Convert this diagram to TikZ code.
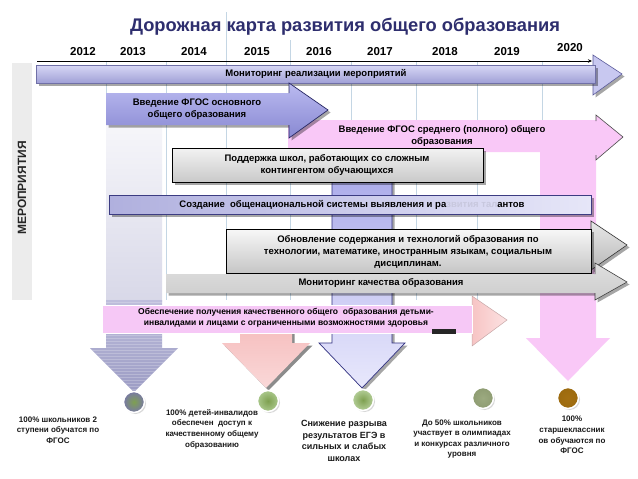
\documentclass[tikz,border=0pt]{standalone}
\usepackage{fontspec}
\setmainfont{Liberation Sans}
\usetikzlibrary{shadows,arrows.meta}
\definecolor{titleblue}{RGB}{46,46,110}
\definecolor{gridc}{RGB}{196,214,228}
\definecolor{labelbg}{RGB}{236,236,236}
\definecolor{pinkc}{RGB}{249,200,247}
\definecolor{navy}{RGB}{50,50,130}
\definecolor{colAtop}{RGB}{246,246,250}
\definecolor{colAmid}{RGB}{216,216,232}
\definecolor{colBtop}{RGB}{190,190,220}
\definecolor{colBbot}{RGB}{156,156,196}
\definecolor{coralTop}{RGB}{244,182,182}
\definecolor{coralBot}{RGB}{250,216,216}
\definecolor{blueTop}{RGB}{172,172,234}
\definecolor{blueBot}{RGB}{232,232,252}
\definecolor{lavTop}{RGB}{216,216,246}
\definecolor{lavBot}{RGB}{160,160,214}
\definecolor{lavHead}{RGB}{200,200,240}
\definecolor{vvTop}{RGB}{186,186,240}
\definecolor{vvBot}{RGB}{136,136,210}
\definecolor{vvEdge}{RGB}{40,40,100}
\definecolor{szL}{RGB}{176,176,222}
\definecolor{szR}{RGB}{230,230,248}
\definecolor{szEdge}{RGB}{60,60,130}
\definecolor{fadec}{RGB}{200,200,222}
\definecolor{obPink}{RGB}{246,200,246}
\definecolor{obHeadL}{RGB}{247,196,196}
\definecolor{obHeadR}{RGB}{252,226,226}
\definecolor{obEdge}{RGB}{200,168,168}
\definecolor{dotSlate}{RGB}{120,120,166}
\definecolor{dotGreen}{RGB}{126,160,80}
\definecolor{dotLgreen}{RGB}{170,200,140}
\definecolor{dotLgreenB}{RGB}{180,206,152}
\definecolor{dotOlive}{RGB}{142,156,114}
\definecolor{dotOliveC}{RGB}{156,170,128}
\definecolor{dotBrown}{RGB}{156,106,14}
\definecolor{dotBrownC}{RGB}{164,112,18}
\begin{document}
\begin{tikzpicture}[x=1pt,y=-1pt,
  boxtext/.style={font=\bfseries\fontsize{9.5}{12}\selectfont, align=center, inner sep=0pt, text=black},
  obtext/.style={font=\bfseries\fontsize{8.5}{11}\selectfont, align=center, inner sep=0pt, text=black},
  smalltext/.style={font=\bfseries\fontsize{8}{10.6}\selectfont, align=center, inner sep=0pt, text=black!90},
  yearlbl/.style={font=\bfseries\fontsize{11.5}{12}\selectfont, inner sep=0pt},
  myshadow/.style={drop shadow={shadow xshift=2.5pt, shadow yshift=-2.5pt, fill=black, opacity=0.35}},
  gridline/.style={draw=gridc, line width=0.6pt},
  dot/.style 2 args={circle, inner sep=0pt, minimum size=21pt, inner color=#1, outer color=#2, draw=white, line width=1.5pt, drop shadow={shadow xshift=1.5pt, shadow yshift=-1.5pt, opacity=0.3}},
]
\useasboundingbox (0,0) rectangle (638,479);
\fill[white] (0,0) rectangle (638,479);

% grid lines
\foreach \gx/\gy in {106/62,166/62,226/12,290/40,351/62,416/62,477/62,542/62}
  \draw[gridline] (\gx,\gy) -- (\gx,300);

% title
\node[font=\bfseries\fontsize{18.3}{20}\selectfont, text=titleblue, inner sep=0pt] (title) at (345,27) {Дорожная карта развития общего образования};

% years
\foreach \yr/\xx in {2012/83,2013/133,2014/194,2015/257,2016/319,2017/380,2018/445,2019/507}
  \node[yearlbl] (y\yr) at (\xx,52) {\yr};
\node[yearlbl] (y2020) at (570,48) {2020};

% timeline
\coordinate (tlA) at (37,61);
\coordinate (tlB) at (592,61);
\draw[line width=0.7pt, -{Stealth[length=4pt,width=3.5pt]}] (tlA) -- (tlB);

% left label column
\fill[labelbg] (12,63) rectangle (32,300);
\node[rotate=90, font=\bfseries\fontsize{12}{12}\selectfont, text=black!85] (merop) at (22,188) {МЕРОПРИЯТИЯ};

% grey column arrow (2013)
\shade[top color=colAtop, bottom color=colAmid] (106,125) rectangle (162,301);
\shade[top color=colBtop, bottom color=colBbot] (106,300) -- (162,300) -- (162,348) -- (178,348) -- (134,392) -- (90,348) -- (106,348) -- cycle;
\begin{scope}
  \clip (106,300) -- (162,300) -- (162,348) -- (178,348) -- (134,392) -- (90,348) -- (106,348) -- cycle;
  \foreach \yy in {302,305,...,392} \draw[white, opacity=0.22, line width=0.7pt] (88,\yy) -- (180,\yy);
\end{scope}

% pink shape (FGOS secondary)
\fill[pinkc] (288,120) -- (596,120) -- (596,115) -- (623,137) -- (596,160) -- (596,338) -- (610,338) -- (568,381) -- (526,338) -- (540,338) -- (540,152) -- (288,152) -- cycle;
\draw[black!70, line width=0.6pt, line join=miter] (596,121) -- (596,115) -- (623,137) -- (596,160) -- (596,155);

% coral down arrow
\path[drop shadow={shadow xshift=2.5pt, shadow yshift=-2.5pt, fill=black, opacity=0.45}, top color=coralTop, bottom color=coralBot] (240,306) -- (292,306) -- (292,343) -- (310,343) -- (266,388) -- (222,343) -- (240,343) -- cycle;

% blue down arrow
\path[myshadow, top color=blueTop, bottom color=blueBot, draw=navy, line width=0.7pt, line join=miter] (332,175) -- (392,175) -- (392,343) -- (405,343) -- (362,388) -- (319,343) -- (332,343) -- cycle;

% monitoring of realization
\path[myshadow, fill=lavHead, draw=navy!80, line width=0.6pt, line join=miter] (593,55) -- (622,74) -- (593,95) -- cycle;
\path[myshadow, top color=lavTop, bottom color=lavBot, draw=navy!70, line width=0.5pt] (36,65) rectangle (595,83);
\node[boxtext] (mon1) at (316,74) {Мониторинг реализации мероприятий};

% FGOS basic
\path[myshadow, top color=vvTop, bottom color=vvBot] (106,93) -- (289,93) -- (289,83) -- (328,110) -- (289,138) -- (289,125) -- (106,125) -- cycle;
\draw[vvEdge, line width=0.7pt, line join=miter] (289,93) -- (289,83) -- (328,110) -- (289,138) -- (289,125);
\node[boxtext] (vv1) at (197,109) {Введение ФГОС основного\\общего образования};

% FGOS secondary text
\node[boxtext] (vv2) at (442,136) {Введение ФГОС среднего (полного) общего\\образования};

% support of schools
\path[myshadow, top color=gray!10, bottom color=gray!42, draw=black, line width=0.7pt] (172,148) rectangle (483,182);
\node[boxtext] (sup1) at (327,165) {Поддержка школ, работающих со сложным\\контингентом обучающихся};

% national system
\path[myshadow, left color=szL, right color=szR, draw=szEdge, line width=0.6pt] (109,195) rectangle (591,214);
\node[boxtext] (nat1) at (352,205) {Создание\ \ общенациональной системы выявления и ра\textcolor{fadec}{звития тал}антов};

% update of content
\path[myshadow, top color=gray!18, bottom color=gray!55, draw=black!80, line width=0.6pt, line join=miter] (591,221) -- (627,245) -- (591,270) -- cycle;
\path[myshadow, top color=gray!6, bottom color=gray!45, draw=black, line width=0.7pt] (226,229) rectangle (591,273);
\node[boxtext] (upd1) at (408,252) {Обновление содержания и технологий образования по\\технологии, математике, иностранным языкам, социальным\\дисциплинам.};

% monitoring of quality
\path[myshadow, top color=gray!25, bottom color=gray!40] (166,274) -- (595,274) -- (595,263) -- (627,282) -- (595,300) -- (595,293) -- (166,293) -- cycle;
\draw[black!75, line width=0.6pt, line join=miter] (595,274) -- (595,263) -- (627,282) -- (595,300) -- (595,293);
\node[boxtext] (mon2) at (381,283) {Мониторинг качества образования};

% inclusive education
\path[left color=obHeadL, right color=obHeadR, draw=obEdge, line width=0.5pt, line join=miter] (472,296) -- (507,320) -- (472,346) -- cycle;
\path[fill=obPink, draw=white, line width=0.8pt] (102,305) rectangle (472,333);
\fill[black!85] (432,329) rectangle (456,333.5);
\node[obtext] (inc1) at (286,318) {Обеспечение получения качественного общего\ \ образования детьми-\\инвалидами и лицами с ограниченными возможностями здоровья};

% result circles
\node[dot={dotGreen}{dotSlate}] (c1) at (134,402) {};
\node[dot={dotGreen}{dotLgreen}] (c2) at (268,401) {};
\node[dot={dotGreen}{dotLgreenB}] (c3) at (363,400) {};
\node[dot={dotOliveC}{dotOlive}] (c4) at (483,398) {};
\node[dot={dotBrownC}{dotBrown}] (c5) at (568,398) {};

% result texts
\node[smalltext] (r1) at (58,430) {100\% школьников 2\\ступени обучатся по\\ФГОС};
\node[smalltext] (r2) at (212,429) {100\% детей-инвалидов\\обеспечен\ \ доступ к\\качественному общему\\образованию};
\node[font=\bfseries\fontsize{9}{11.7}\selectfont, align=center, inner sep=0pt, text=black!90] (r3) at (344,441) {Снижение разрыва\\результатов ЕГЭ в\\сильных и слабых\\школах};
\node[smalltext] (r4) at (462,439) {До 50\% школьников\\участвует в олимпиадах\\и конкурсах различного\\уровня};
\node[smalltext] (r5) at (572,435) {100\%\\старшеклассник\\ов обучаются по\\ФГОС};
\end{tikzpicture}
\end{document}
